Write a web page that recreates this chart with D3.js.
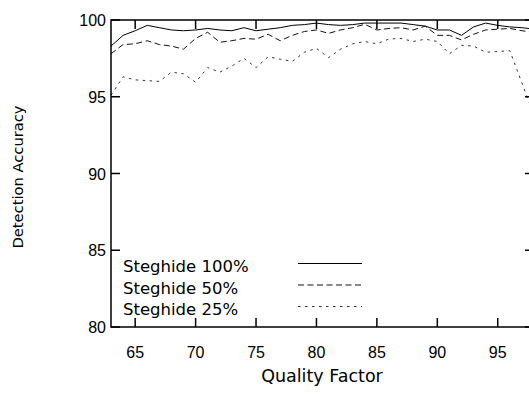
<!DOCTYPE html>
<html>
<head>
<meta charset="utf-8">
<script src="https://cdn.jsdelivr.net/npm/d3@7"></script>
<style>
  body { margin: 0; background: #fff; }
  svg { display: block; }
</style>
</head>
<body>
<div id="app"></div>
<script>
// quality factors
const quality = d3.range(63, 99);

// detection accuracy per series
const steg100 = [98.3, 99.0, 99.3, 99.65, 99.5, 99.35, 99.3, 99.35, 99.45, 99.35,
  99.3, 99.5, 99.3, 99.4, 99.5, 99.65, 99.7, 99.8, 99.7, 99.65,
  99.7, 99.8, 99.8, 99.8, 99.8, 99.7, 99.6, 99.35, 99.35, 99.0,
  99.55, 99.8, 99.65, 99.55, 99.5, 99.4];
const steg50 = [97.8, 98.4, 98.45, 98.65, 98.4, 98.3, 98.1, 98.8, 99.2, 98.55,
  98.65, 98.8, 98.75, 99.07, 98.65, 99.0, 99.25, 99.35, 99.13, 99.35,
  99.5, 99.72, 99.35, 99.45, 99.5, 99.35, 99.6, 99.0, 99.0, 98.7,
  99.07, 99.35, 99.4, 99.45, 99.3, 99.2];
const steg25 = [95.1, 96.3, 96.1, 96.05, 96.0, 96.6, 96.5, 95.95, 96.9, 96.6,
  97.0, 97.5, 96.9, 97.6, 97.45, 97.3, 97.9, 98.15, 97.55, 98.1,
  98.45, 98.6, 98.45, 98.76, 98.8, 98.6, 98.75, 98.6, 97.8, 98.35,
  98.3, 97.9, 97.95, 98.0, 95.9, 93.8];

const seriesNames = ["Steghide 100%", "Steghide 50%", "Steghide 25%"];
const xTicks = [65, 70, 75, 80, 85, 90, 95];
const yTicks = [80, 85, 90, 95, 100];

const w = 529, h = 397;
const m = { left: 111, top: 20, bottom: 70 };
const plotRight = 534;

const svg = d3.select("#app").append("svg").attr("width", w).attr("height", h);

const x = d3.scaleLinear().domain([63, 98]).range([m.left, plotRight]);
const y = d3.scaleLinear().domain([80, 100]).range([h - m.bottom, m.top]);

svg.append("clipPath").attr("id", "clip")
  .append("rect")
  .attr("x", m.left).attr("y", m.top)
  .attr("width", plotRight - m.left).attr("height", y(80) - m.top);

// lines
const styles = [
  { dash: null, color: "#000" },
  { dash: "6,3.5", color: "#111" },
  { dash: "2.5,4.5", color: "#333" }
];
const all = [steg100, steg50, steg25];
const line = d3.line().x((d, i) => x(quality[i])).y(d => y(d));

svg.append("g").attr("clip-path", "url(#clip)")
  .selectAll("path")
  .data(all)
  .join("path")
  .attr("d", d => line(d))
  .attr("fill", "none")
  .attr("stroke", (d, i) => styles[i].color)
  .attr("stroke-width", 1)
  .attr("stroke-dasharray", (d, i) => styles[i].dash);

// axes, ticks pointing inward, mirrored on top
const tick = 9;
const frame = svg.append("g").attr("stroke", "#000").attr("stroke-width", 1.5);
frame.append("rect")
  .attr("x", m.left).attr("y", m.top)
  .attr("width", plotRight - m.left).attr("height", y(80) - m.top)
  .attr("fill", "none");

frame.selectAll(".xb").data(xTicks).join("line")
  .attr("x1", d => x(d)).attr("x2", d => x(d))
  .attr("y1", y(80)).attr("y2", y(80) - tick);
frame.selectAll(".xt").data(xTicks).join("line")
  .attr("x1", d => x(d)).attr("x2", d => x(d))
  .attr("y1", m.top).attr("y2", m.top + tick);
frame.selectAll(".yl").data(yTicks).join("line")
  .attr("x1", m.left).attr("x2", m.left + tick)
  .attr("y1", d => y(d)).attr("y2", d => y(d));
frame.selectAll(".yr").data(yTicks).join("line")
  .attr("x1", plotRight).attr("x2", plotRight - tick)
  .attr("y1", d => y(d)).attr("y2", d => y(d));

const labelFont = "'Liberation Sans', Arial, sans-serif";
svg.append("g").selectAll("text").data(xTicks).join("text")
  .attr("x", d => x(d)).attr("y", y(80) + 31)
  .attr("text-anchor", "middle")
  .attr("font-family", labelFont).attr("font-size", 16)
  .text(d => d);
svg.append("g").selectAll("text").data(yTicks).join("text")
  .attr("x", m.left - 5).attr("y", d => y(d) + 6)
  .attr("text-anchor", "end")
  .attr("font-family", labelFont).attr("font-size", 16)
  .text(d => d);

const titleFont = "'DejaVu Sans', sans-serif";
svg.append("text")
  .attr("x", 322).attr("y", 382)
  .attr("text-anchor", "middle")
  .attr("font-family", titleFont).attr("font-size", 17.5)
  .text("Quality Factor");
svg.append("text")
  .attr("transform", "translate(23,177) rotate(-90)")
  .attr("text-anchor", "middle")
  .attr("font-family", titleFont).attr("font-size", 14.7)
  .text("Detection Accuracy");

// legend
const legend = svg.append("g");
seriesNames.forEach((name, i) => {
  const ly = 263.5 + i * 21.5;
  legend.append("text")
    .attr("x", 123).attr("y", ly + 8.5)
    .attr("font-family", titleFont).attr("font-size", 16.5)
    .text(name);
  legend.append("line")
    .attr("x1", 298).attr("x2", 362)
    .attr("y1", ly).attr("y2", ly)
    .attr("stroke", styles[i].color)
    .attr("stroke-width", 1)
    .attr("stroke-dasharray", styles[i].dash);
});
</script>
</body>
</html>
